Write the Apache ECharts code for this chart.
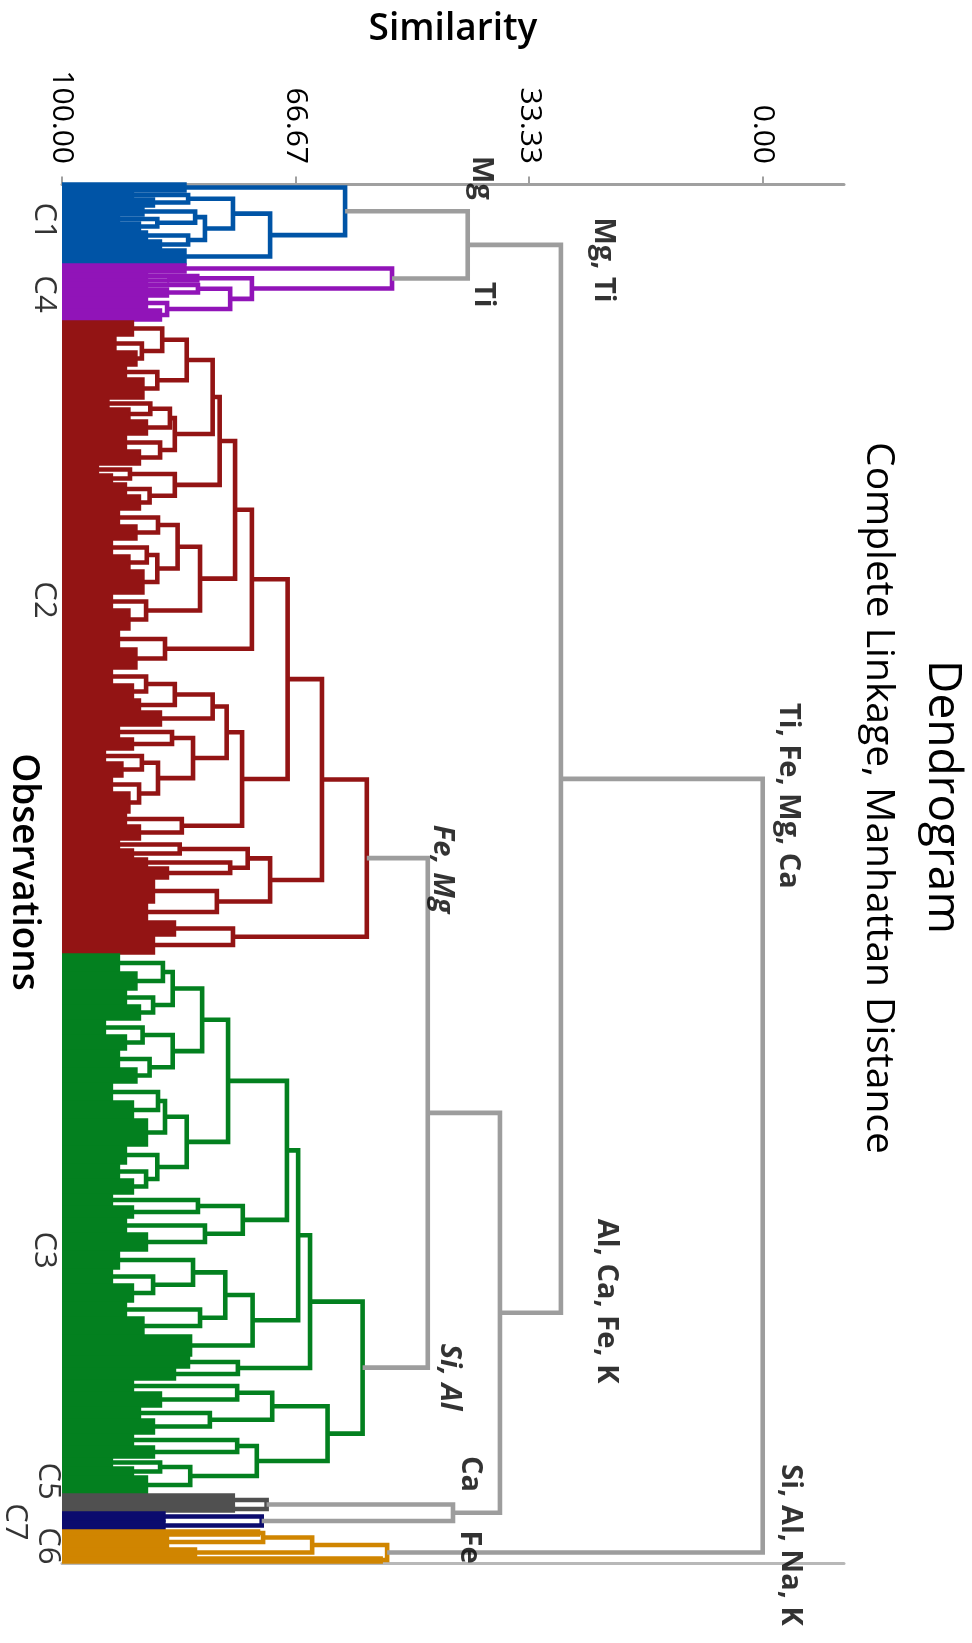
<!DOCTYPE html>
<html><head><meta charset="utf-8">
<script src="https://cdn.jsdelivr.net/npm/echarts@6/dist/echarts.min.js"></script>
<style>html,body{margin:0;padding:0;background:#fff}#chart{width:972px;height:1643px}</style>
</head><body><div id="chart"></div>
<script>
// ================= DATA =================
// Similarity axis
const similarityTicks = [100, 66.67, 33.33, 0];
const similarityMin = -11.6;
const similarityMax = 100;
const observationCount = 460;

// Cluster order (top to bottom) and colours
const clusterNames = ['C1', 'C4', 'C2', 'C3', 'C5', 'C6', 'C7'];
const clusterColors = ['#0054a6', '#9114b8', '#931414', '#03801f', '#505050', '#0b0b6e', '#d08500'];
const linkColor = '#9d9d9d';

// Trees: internal node = [similarity, childA, childB]; leaf bundle = [similarity, number of observations]
const treeC1 = [59.6,
  [82.5, 3],
  [70.3,
    [75.6,
      [82.0, [90, 2], [87, 3]],
      [79.6,
        [81.0, [88.5, 3], [86.4, [92, 2], [89, 3]]],
        [82.0, [88, 3], [86, 3]]
      ]
    ],
    [82.5, 5]
  ]
];

const treeC4 = [52.9,
  [82.5, 3],
  [72.9,
    [80.7, [88, 2], [85, 1]],
    [76.0,
      [80.6, [88, 2], [85, 3]],
      [85.0, [88, 4], [86, 4]]
    ]
  ]
];

const treeC2 = [56.5,
  [62.9,
    [67.8,
      [72.9,
        [75.3,
          [77.5,
            [78.5,
              [82.2,
                [85.7, [90, 5], [88.6, [92.5, 5], [89.5, 5]]],
                [86.4, [91, 4], [88.5, 7]]
              ],
              [83.9,
                [84.6, [87.4, [93.5, 3], [90.5, 4]], [88, 5]],
                [86, [91, 5], [89, 5]]
              ]
            ],
            [83.9, [90.3, [95, 3], [93, 3]], [87.5, [91, 4], [89, 5]]]
          ],
          [80.3,
            [83.5,
              [86.3, [92, 5], [89.5, 5]],
              [86.4, [87.9, [93, 5], [90.5, 5]], [88.5, 8]]
            ],
            [88, [93, 5], [90.5, 7]]
          ]
        ],
        [85.3, [92, 6], [89.5, 7]]
      ],
      [74.3,
        [76.5,
          [78.5,
            [83.9, [88, [93, 5], [90, 5]], [89, 4]],
            [86, 5]
          ],
          [81.3,
            [84.3, [92, 4], [90, 4]],
            [86.3, [88.6, [94, 4], [91.5, 5]], [89, [93, 5], [90.5, 7]]]
          ]
        ],
        [82.9, [91, 4], [89, 5]]
      ]
    ],
    [70.3,
      [73.5, [83.2, [92, 3], [90, 3]], [76.0, [88, 3], [85, 4]]],
      [77.9, [87, 8], [88, 6]]
    ]
  ],
  [75.6, [84, 5], [87, 6]]
];

const treeC3 = [57.1,
  [64.6,
    [66.3,
      [67.9,
        [76.3,
          [80.0,
            [84.2, [85.6, [92, 6], [89.5, 6]], [87, [91, 5], [89, 5]]],
            [84.2, [88.5, [94, 5], [91, 5]], [87.5, [92, 6], [89.5, 5]]]
          ],
          [82.2,
            [85.3, [86.3, [93, 6], [90, 6]], [88, 9]],
            [86.4, [91, 6], [88, [92, 5], [90, 5]]]
          ]
        ],
        [74.2, [80.6, [93, 4], [90, 4]], [79.6, [91, 5], [88, 6]]]
      ],
      [72.8,
        [76.7,
          [81.3, [92, 6], [87, [93, 5], [90, 6]]],
          [80.3, [91, 5], [88.5, 6]]
        ],
        [81.7, 7]
      ]
    ],
    [74.9, [82, 4], [84, 4]]
  ],
  [62.1,
    [70.0, [75.0, [90, 4], [86, 5]], [78.9, [89, 4], [87, 5]]],
    [72.2, [75.0, [90, 4], [87, 4]], [81.7, [86, [93, 3], [90, 3]], [88, 6]]]
  ]
];

const treeC5 = [70.8, [75.6, 4], [75.6, 2]];
const treeC6 = [71.5, [85.5, 3], [85.5, 3]];
const treeC7 = [53.6, [64.3, [71.3, [72, 2], [85, 4]], [81, 3]], [54.5, 2]];

// Joins above the clusters (similarity levels)
const upperTree = [0,
  [28.8,
    [42.1, 'C1', 'C4'],
    [37.5, [47.8, 'C2', 'C3'], [44.2, 'C5', 'C6']]
  ],
  'C7'
];

// Variable annotations of the splits
const splitLabels = ['Mg', 'Ti', 'Mg, Ti', 'Ti, Fe, Mg, Ca', 'Fe, Mg', 'Al, Ca, Fe, K', 'Si, Al', 'Ca', 'Fe', 'Si, Al, Na, K'];
const splitLabelItalic = [false, false, false, false, true, false, true, false, false, false];

// ================= LAYOUT (positions of text) =================
const splitLabelAt = [[40.2, -2.2], [39.9, 36.8], [22.8, 25.2], [-3.6, 203.8], [45.8, 228.2],
  [22.3, 372.2], [44.7, 397.5], [41.7, 429.8], [41.9, 454.2], [-3.9, 453.5]];
const clusterLabelAt = [[102.6, 12.2], [102.6, 36.5], [102.6, 138.5], [102.6, 355.2],
  [102.0, 432.2], [102.0, 453.8], [106.7, 445.8]];

// ================= BUILD =================
const trees = { C1: treeC1, C4: treeC4, C2: treeC2, C3: treeC3, C5: treeC5, C6: treeC6, C7: treeC7 };
const palette = clusterColors.concat([linkColor]);
const FONT = '"Open Sans", "Noto Sans", sans-serif';

let nextLeaf = 0;
const rectData = [];
const linkData = [];
function place(node, ci) {
  if (typeof node === 'string') {
    return place(trees[node], clusterNames.indexOf(node));
  }
  if (node.length === 2 && typeof node[1] === 'number') {
    const first = nextLeaf, last = nextLeaf + node[1] - 1;
    nextLeaf += node[1];
    rectData.push([node[0], first, last, ci]);
    return { h: node[0], p: (first + last) / 2 };
  }
  const a = place(node[1], ci), b = place(node[2], ci);
  linkData.push([a.h, a.p, node[0], b.p, b.h, ci]);
  return { h: node[0], p: (a.p + b.p) / 2 };
}
place(upperTree, palette.length - 1);

function renderRect(params, api) {
  const h = api.value(0), f = api.value(1), l = api.value(2), ci = api.value(3);
  const p0 = api.coord([100, f - 0.75]);
  const p1 = api.coord([h - 0.3, l + 0.75]);
  return {
    type: 'rect',
    shape: { x: Math.min(p0[0], p1[0]), y: Math.min(p0[1], p1[1]), width: Math.abs(p1[0] - p0[0]), height: Math.abs(p1[1] - p0[1]) },
    style: { fill: palette[ci] }
  };
}
function renderLink(params, api) {
  const pts = [[api.value(0), api.value(1)], [api.value(2), api.value(1)], [api.value(2), api.value(3)], [api.value(4), api.value(3)]].map(p => api.coord(p));
  return {
    type: 'polyline',
    shape: { points: pts },
    style: { stroke: palette[api.value(5)], lineWidth: 4.6, fill: null, lineJoin: 'miter' }
  };
}

const chart = echarts.init(document.getElementById('chart'), null, { renderer: 'canvas' });
chart.setOption({
  animation: false,
  backgroundColor: '#fff',
  grid: { left: 62, right: 128, top: 180, bottom: 80, containLabel: false, outerBoundsMode: 'none' },
  xAxis: [{
    type: 'value', position: 'top', inverse: true,
    min: similarityMin, max: similarityMax,
    name: 'Similarity', nameLocation: 'middle', nameGap: 132,
    nameTextStyle: { fontSize: 37, fontWeight: 600, color: '#000', fontFamily: FONT },
    axisLine: { show: true, lineStyle: { color: '#a0a0a0', width: 3 } },
    axisTick: { show: true, length: 8, customValues: similarityTicks, lineStyle: { color: '#a0a0a0', width: 2 } },
    axisLabel: { show: true, rotate: -90, margin: 16, fontSize: 30, color: '#000', fontFamily: FONT,
      customValues: similarityTicks, formatter: v => v.toFixed(2) },
    splitLine: { show: false }
  }, {
    type: 'value', position: 'bottom', inverse: true,
    min: similarityMin, max: similarityMax,
    axisLine: { show: true, lineStyle: { color: '#b8b8b8', width: 3 } },
    axisTick: { show: false }, axisLabel: { show: false }, splitLine: { show: false }
  }],
  yAxis: {
    type: 'value', inverse: true, min: -1.5, max: observationCount - 0.5,
    axisLine: { show: false }, axisTick: { show: false }, axisLabel: { show: false }, splitLine: { show: false }
  },
  graphic: [
    { type: 'text', x: 942, y: 797, rotation: -Math.PI / 2,
      style: { text: 'Dendrogram', fontSize: 46, fontFamily: FONT, fill: '#000', align: 'center', verticalAlign: 'middle' } },
    { type: 'text', x: 878, y: 798, rotation: -Math.PI / 2,
      style: { text: 'Complete Linkage, Manhattan Distance', fontSize: 39, fontFamily: FONT, fill: '#000', align: 'center', verticalAlign: 'middle' } },
    { type: 'text', x: 24, y: 872, rotation: -Math.PI / 2,
      style: { text: 'Observations', fontSize: 37, fontWeight: 600, fontFamily: FONT, fill: '#000', align: 'center', verticalAlign: 'middle' } }
  ],
  series: [
    { type: 'custom', renderItem: renderRect, data: rectData, silent: true, clip: false },
    { type: 'custom', renderItem: renderLink, data: linkData, silent: true, clip: false },
    { type: 'scatter', symbolSize: 0, clip: false, silent: true,
      data: splitLabels.map((t, i) => ({ name: t, value: splitLabelAt[i],
        label: { fontStyle: splitLabelItalic[i] ? 'italic' : 'normal' } })),
      label: { show: true, position: 'inside', formatter: '{b}', rotate: -90, fontSize: 29,
        fontWeight: 'bold', color: '#000', fontFamily: FONT } },
    { type: 'scatter', symbolSize: 0, clip: false, silent: true,
      data: clusterNames.map((t, i) => ({ name: t, value: clusterLabelAt[i] })),
      label: { show: true, position: 'inside', formatter: '{b}', rotate: -90, fontSize: 31,
        color: '#000', fontFamily: FONT } }
  ]
});
</script></body></html>
